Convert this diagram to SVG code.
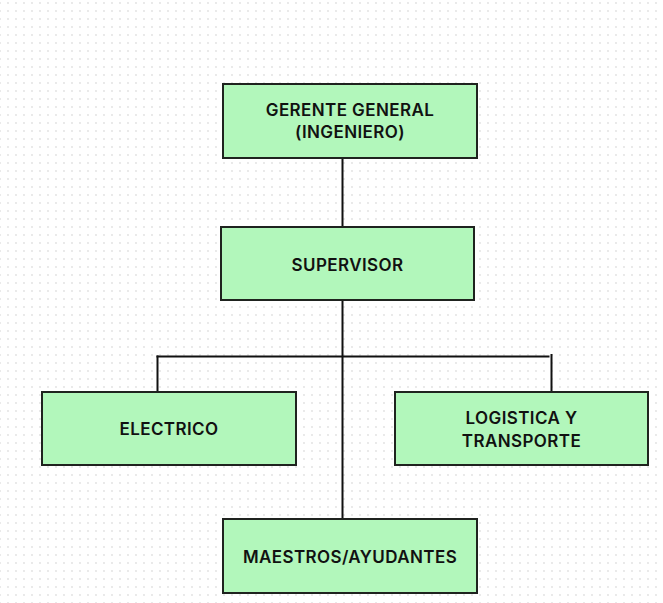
<svg xmlns="http://www.w3.org/2000/svg" width="663" height="603" viewBox="0 0 663 603">
  <style>
    .box { fill: #b2f7bb; stroke: #1f231f; stroke-width: 2; }
    .lbl { font-family: Inter, "Liberation Sans", sans-serif; font-weight: 600; font-size: 17px; letter-spacing: 0.4px; fill: #111111; text-anchor: middle; }
    .conn line { stroke: #111111; stroke-width: 2; fill: none; }
  </style>
  <defs>
    <pattern id="dots" x="4" y="7" width="8" height="8" patternUnits="userSpaceOnUse">
      <circle cx="4" cy="4" r="0.9" fill="#e0e0e0"/>
    </pattern>
  </defs>
  <rect width="663" height="603" fill="#ffffff"/>
  <rect width="663" height="603" fill="url(#dots)"/>

  <g id="connectors" class="conn">
    <line x1="342.5" y1="158" x2="342.5" y2="227"/>
    <line x1="342.5" y1="300" x2="342.5" y2="519"/>
    <line x1="156.5" y1="356.5" x2="549.5" y2="356.5"/>
    <line x1="157.5" y1="355.5" x2="157.5" y2="392"/>
    <line x1="551.5" y1="354" x2="551.5" y2="392"/>
  </g>

  <g id="gerente">
    <rect class="box" x="223" y="84" width="254" height="74"/>
    <text class="lbl" x="350" y="115.7">GERENTE GENERAL</text>
    <text class="lbl" x="350" y="138">(INGENIERO)</text>
  </g>
  <g id="supervisor">
    <rect class="box" x="221" y="227" width="253" height="73"/>
    <text class="lbl" x="347.5" y="270.7">SUPERVISOR</text>
  </g>
  <g id="electrico">
    <rect class="box" x="42" y="392" width="254" height="73"/>
    <text class="lbl" x="169" y="435">ELECTRICO</text>
  </g>
  <g id="logistica">
    <rect class="box" x="395" y="392" width="253" height="73"/>
    <text class="lbl" x="521.5" y="424">LOGISTICA Y</text>
    <text class="lbl" x="521.5" y="447.3">TRANSPORTE</text>
  </g>
  <g id="maestros">
    <rect class="box" x="223" y="519" width="254" height="74"/>
    <text class="lbl" x="350" y="562.7">MAESTROS/AYUDANTES</text>
  </g>
</svg>
